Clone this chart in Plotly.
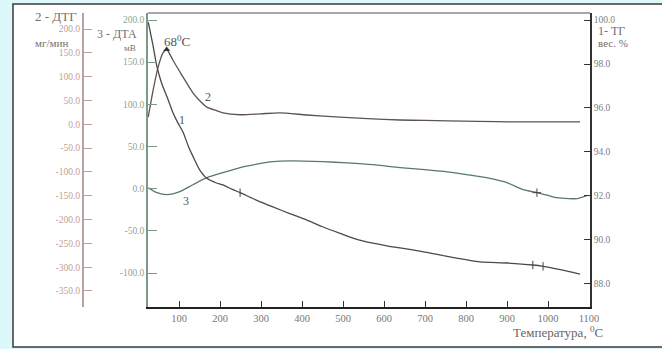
import plotly.graph_objects as go

W, H = 662, 349

# ---- data -------------------------------------------------------------
# 1 - TG, mass %
tg_temp = [25, 36, 46, 58, 71, 85, 98, 110, 122, 134, 150, 168, 190, 207, 230, 249, 290, 329,
           370, 412, 450, 493, 530, 573, 610, 639, 700, 754, 800, 834, 900, 963, 988, 1030, 1078]
tg_mass = [99.9, 98.9, 97.9, 97.1, 96.5, 95.8, 95.3, 94.9, 94.3, 93.8, 93.2, 92.8, 92.6, 92.5, 92.3, 92.15, 91.8, 91.5,
           91.2, 90.9, 90.6, 90.3, 90.05, 89.85, 89.72, 89.64, 89.45, 89.25, 89.1, 89.0, 88.95, 88.86, 88.8, 88.65, 88.45]

# 2 - DTG, mg/min
dtg_temp = [25, 37, 49, 61, 70, 85, 98, 110, 122, 134, 150, 168, 190, 207, 249, 300, 346, 412,
            493, 560, 639, 700, 754, 830, 915, 1000, 1078]
dtg_rate = [15, 72, 120, 150, 157, 135, 116, 99, 82, 66, 50, 36, 29, 24, 20, 22, 24, 19.5,
            15, 12, 9, 8, 7, 6, 5, 5, 5]

# 3 - DTA, mV
dta_temp = [25, 46, 71, 102, 134, 168, 207, 249, 290, 329, 371, 451, 510, 573, 639, 700, 754, 834,
            870, 900, 939, 973, 1000, 1022, 1050, 1071, 1095]
dta_sig = [1, -4.7, -7.1, -3.6, 4.7, 13, 19, 25, 29, 32, 33, 32, 30.5, 28.4, 25, 22.5, 20, 14.2,
           11, 7.1, -1.2, -4.7, -8, -10.7, -11.8, -11.8, -8.3]

# ---- axis ticks -------------------------------------------------------
x_ticks = [100, 200, 300, 400, 500, 600, 700, 800, 900, 1000, 1100]
x_labels = ["100", "200", "300", "400", "500", "600", "700", "800", "900", "1000", "1100"]
dtg_ticks = [200, 150, 100, 50, 0, -50, -100, -150, -200, -250, -300, -350]
dtg_labels = ["200.0", "150.0", "100.0", "50.0", "0.0", "-50.0", "-100.0", "-150.0",
              "-200.0", "-250.0", "-300.0", "-350.0"]
dta_ticks = [200, 150, 100, 50, 0, -50, -100]
dta_labels = ["200.0", "150.0", "100.0", "50.0", "0.0", "-50.0", "-100.0"]
tg_ticks = [100, 98, 96, 94, 92, 90, 88]
tg_labels = ["100.0", "98.0", "96.0", "94.0", "92.0", "90.0", "88.0"]

SERIF = "Liberation Serif"


def px(x):
    return x / W


def py(y):
    return 1 - y / H


fig = go.Figure()

fig.add_trace(go.Scatter(x=tg_temp, y=tg_mass, yaxis="y3", mode="lines",
                         line=dict(color="#4a4a4a", width=1.3, shape="spline", smoothing=0.6),
                         hoverinfo="skip"))
fig.add_trace(go.Scatter(x=dtg_temp, y=dtg_rate, yaxis="y2", mode="lines",
                         line=dict(color="#5e5252", width=1.3, shape="spline", smoothing=0.6),
                         hoverinfo="skip"))
fig.add_trace(go.Scatter(x=dta_temp, y=dta_sig, yaxis="y", mode="lines",
                         line=dict(color="#587a66", width=1.3, shape="spline", smoothing=0.6),
                         hoverinfo="skip"))

# small cross marks on the curves
fig.add_trace(go.Scatter(x=[tg_temp[15], tg_temp[31], tg_temp[32]],
                         y=[tg_mass[15], tg_mass[31], tg_mass[32]], yaxis="y3", mode="markers",
                         marker=dict(symbol="line-ns", size=6, line=dict(color="#444", width=1)),
                         hoverinfo="skip"))
fig.add_trace(go.Scatter(x=[dta_temp[21]], y=[dta_sig[21]], yaxis="y", mode="markers",
                         marker=dict(symbol="cross-thin", size=6, line=dict(color="#444", width=1)),
                         hoverinfo="skip"))
# peak marker on DTG
fig.add_trace(go.Scatter(x=[dtg_temp[4]], y=[dtg_rate[4]], yaxis="y2", mode="markers",
                         marker=dict(symbol="triangle-up", size=6, color="#333"),
                         hoverinfo="skip"))

x_dom = [px(148), px(590)]
y_dom = [py(307), py(13)]

fig.update_layout(
    template="none",
    width=W, height=H,
    margin=dict(l=0, r=0, t=0, b=0),
    paper_bgcolor="#dcf8fa",
    plot_bgcolor="rgba(0,0,0,0)",
    showlegend=False,
    font=dict(family=SERIF, color="#666"),
    xaxis=dict(domain=x_dom, range=[24.4, 1102.4], tickvals=x_ticks, ticktext=x_labels,
               ticks="inside", ticklen=6, tickcolor="#333", showline=True, linecolor="#222",
               linewidth=2, showgrid=False, zeroline=False, automargin=False,
               tickfont=dict(size=10.5, color="#777", family=SERIF), anchor="y"),
    yaxis=dict(domain=y_dom, range=[-140.3, 208.3], tickvals=dta_ticks, ticktext=dta_labels,
               ticks="inside", ticklen=9, tickcolor="#7a9a86", showline=True, linecolor="#7a9a86",
               linewidth=1.5, showgrid=False, zeroline=False, automargin=False, side="left",
               tickfont=dict(size=9.5, color="#8aa692", family=SERIF), anchor="x"),
    yaxis2=dict(overlaying="y", anchor="free", position=px(83), side="left",
                range=[-383.6, 233.6], tickvals=dtg_ticks, ticktext=dtg_labels,
                ticks="inside", ticklen=8, tickcolor="#bfa0a0", showline=True,
                linecolor="#bfa0a0", linewidth=2, showgrid=False, zeroline=False,
                automargin=False, tickfont=dict(size=9.5, color="#bf9c9c", family=SERIF)),
    yaxis3=dict(overlaying="y", anchor="x", side="right", range=[86.95, 100.32],
                tickvals=tg_ticks, ticktext=tg_labels, ticks="inside", ticklen=6,
                tickcolor="#333", showline=True, linecolor="#333", linewidth=1.5,
                showgrid=False, zeroline=False, automargin=False,
                tickfont=dict(size=9.5, color="#808080", family=SERIF)),
)

# white panel with frame, and the top edge of the plotting box
fig.add_shape(type="rect", xref="paper", yref="paper", x0=px(13), x1=px(700), y0=py(347), y1=py(4),
              fillcolor="white", line=dict(color="#3a3a3a", width=1.5), layer="below")
fig.add_shape(type="line", xref="paper", yref="paper", x0=x_dom[0], x1=x_dom[1], y0=y_dom[1], y1=y_dom[1],
              line=dict(color="#8a8a8a", width=1.5))

# (text, left x, centre y, size, colour)
texts = [
    ("2 - ДТГ", 33, 16, 13, "#707070"),
    ("мг/мин", 33, 43, 11, "#707070"),
    ("3 - ДТА", 95, 34, 12, "#707070"),
    ("мВ", 122, 48, 9, "#707070"),
    ("1- ТГ", 596, 31, 12, "#707070"),
    ("вес. %", 596, 43, 11, "#707070"),
    ("68<sup>0</sup>C", 162, 41, 13, "#555"),
    ("1", 177, 120, 12, "#555"),
    ("2", 203, 97, 12, "#555"),
    ("3", 181, 201, 12, "#555"),
    ("Температура, <sup>0</sup>C", 511, 332, 13, "#666"),
]
for t, x, y, s, c in texts:
    fig.add_annotation(text=t, xref="paper", yref="paper", x=px(x), y=py(y), showarrow=False,
                       xanchor="left", yanchor="middle",
                       font=dict(family=SERIF, size=s, color=c))

fig.write_html("out.html")
